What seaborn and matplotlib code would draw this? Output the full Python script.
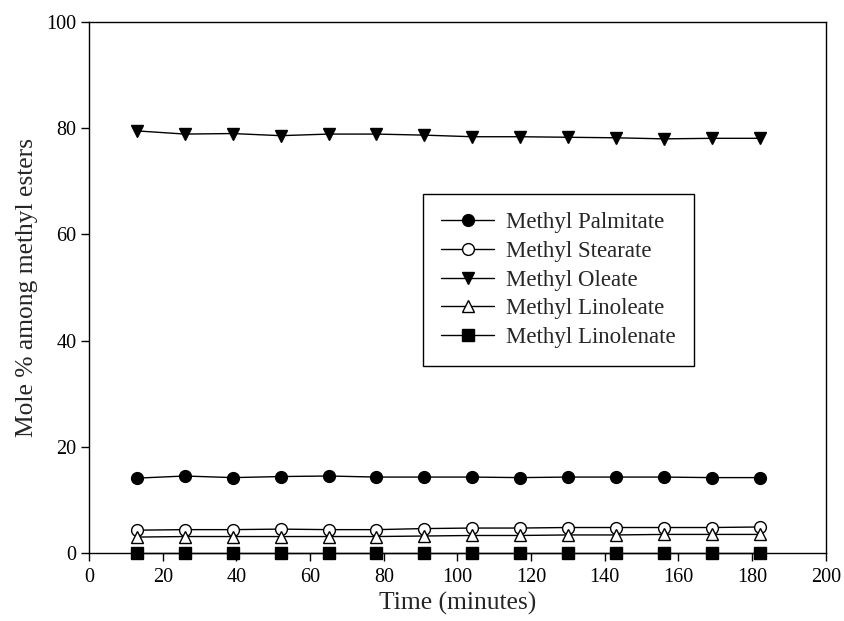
import numpy as np
import pandas as pd
import seaborn as sns
import matplotlib
matplotlib.use("Agg")
import matplotlib.pyplot as plt

time_min = [13, 26, 39, 52, 65, 78, 91, 104, 117, 130, 143, 156, 169, 182]
palmitate = [14.1, 14.5, 14.2, 14.4, 14.5, 14.3, 14.3, 14.3, 14.2, 14.3, 14.3, 14.3, 14.2, 14.2]
stearate = [4.3, 4.4, 4.4, 4.5, 4.4, 4.4, 4.6, 4.7, 4.7, 4.8, 4.8, 4.8, 4.8, 4.9]
oleate = [79.5, 78.9, 79.0, 78.6, 78.9, 78.9, 78.7, 78.4, 78.4, 78.3, 78.2, 78.0, 78.1, 78.1]
linoleate = [3.0, 3.1, 3.1, 3.1, 3.1, 3.1, 3.2, 3.3, 3.3, 3.4, 3.4, 3.5, 3.5, 3.5]
linolenate = [0.0, 0.0, 0.0, 0.0, 0.0, 0.0, 0.0, 0.0, 0.0, 0.0, 0.0, 0.0, 0.0, 0.0]

series_names = ["Methyl Palmitate", "Methyl Stearate", "Methyl Oleate",
                "Methyl Linoleate", "Methyl Linolenate"]
series_vals = [palmitate, stearate, oleate, linoleate, linolenate]
markers = ["o", "o", "v", "^", "s"]
faces = ["black", "white", "black", "white", "black"]

sns.set_style("ticks")
plt.rcParams["font.family"] = ["Liberation Serif", "DejaVu Serif"]

fig = plt.figure(figsize=(8.44, 6.21), dpi=100)
ax = fig.add_axes([0.1055, 0.1095, 0.873, 0.855])

for name, vals, m, fc in zip(series_names, series_vals, markers, faces):
    df = pd.DataFrame({"t": time_min, "v": vals})
    sns.lineplot(data=df, x="t", y="v", ax=ax, color="black", linewidth=1.0,
                 marker=m, markersize=8.5, markerfacecolor=fc,
                 markeredgecolor="black", markeredgewidth=1.0, label=name,
                 clip_on=False, zorder=3)

ax.set_xlim(0, 200)
ax.set_ylim(0, 100)
ax.set_xticks(np.arange(0, 201, 20))
ax.set_yticks(np.arange(0, 101, 20))
ax.tick_params(axis="both", labelsize=14.5, direction="out", length=6, width=1,
               colors="black", pad=3)
ax.tick_params(axis="x", pad=5)
for s in ["top", "right", "left", "bottom"]:
    ax.spines[s].set_visible(True)
    ax.spines[s].set_color("black")
    ax.spines[s].set_linewidth(1.0)

ax.set_xlabel("Time (minutes)", fontsize=18.4, labelpad=3)
ax.set_ylabel("Mole % among methyl esters", fontsize=18.4, labelpad=6)

leg = ax.legend(loc="upper left", bbox_to_anchor=(0.453, 0.676), frameon=True,
                fancybox=False, edgecolor="black", fontsize=16.5, handlelength=2.3,
                borderpad=0.8, labelspacing=0.33, handletextpad=0.55, borderaxespad=0,
                framealpha=1)
leg.get_frame().set_linewidth(1.0)

fig.savefig("out.png", dpi=100)
